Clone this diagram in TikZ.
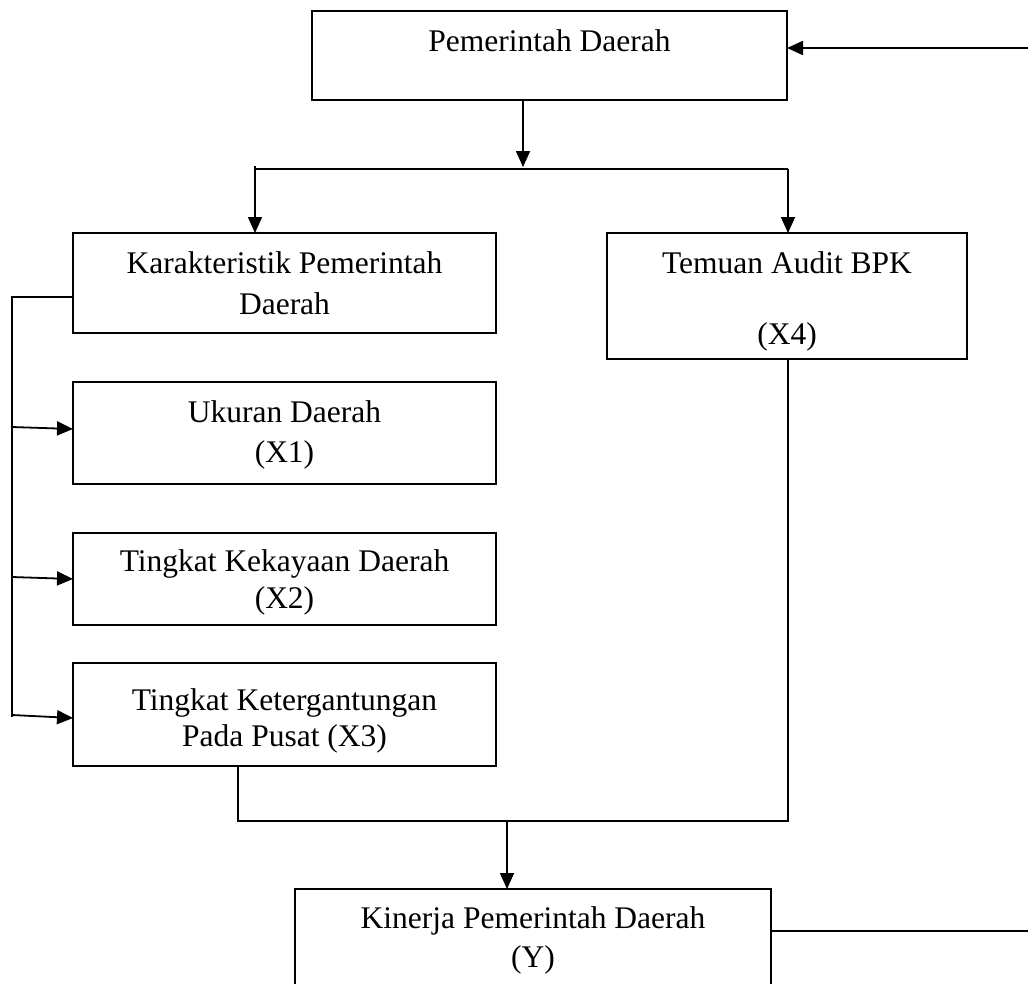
\documentclass[tikz,border=0pt]{standalone}
\usepackage{fontspec}
\setmainfont{Liberation Serif}
\usetikzlibrary{arrows.meta}
\tikzset{
  box/.style={draw, line width=1.8pt, rectangle, inner sep=0pt, outer sep=0pt},
  txt/.style={anchor=base, inner sep=0pt, font=\fontsize{31.5}{38}\selectfont},
  conn/.style={line width=1.8pt},
  arr/.style={line width=1.8pt, -{Triangle[length=16pt,width=14pt]}}
}
\begin{document}
\begin{tikzpicture}[x=1pt,y=-1pt]
\clip (0,0) rectangle (1028,983);
\fill[white] (0,0) rectangle (1028,983);
% boxes
\node[box, minimum width=475pt, minimum height=89pt] (top) at (549.5,55.5) {};
\node[box, minimum width=423pt, minimum height=100pt] (kar) at (284.5,283) {};
\node[box, minimum width=423pt, minimum height=102pt] (xa) at (284.5,433) {};
\node[box, minimum width=423pt, minimum height=92pt] (xb) at (284.5,579) {};
\node[box, minimum width=423pt, minimum height=103pt] (xc) at (284.5,714.5) {};
\node[box, minimum width=360pt, minimum height=126pt] (xd) at (787,296) {};
\node[box, minimum width=476pt, minimum height=130pt] (yb) at (533,954) {};
% texts
\node[txt] (tTop) at (549.5,51) {Pemerintah Daerah};
\node[txt] (tKar1) at (284.5,273) {Karakteristik Pemerintah};
\node[txt] (tKar2) at (284.5,314) {Daerah};
\node[txt] (tXa1) at (284.5,422) {Ukuran Daerah};
\node[txt] (tXa2) at (284.5,462) {(X1)};
\node[txt] (tXb1) at (284.5,571) {Tingkat Kekayaan Daerah};
\node[txt] (tXb2) at (284.5,608) {(X2)};
\node[txt] (tXc1) at (284.5,710) {Tingkat Ketergantungan};
\node[txt] (tXc2) at (284.5,746) {Pada Pusat (X3)};
\node[txt] (tXd1) at (787,273) {Temuan Audit BPK};
\node[txt] (tXd2) at (787,344) {(X4)};
\node[txt] (tY1) at (533,928) {Kinerja Pemerintah Daerah};
\node[txt] (tY2) at (533,967) {(Y)};
% coordinates
\coordinate (sp) at (523,167);
\coordinate (hl) at (255,169);
\coordinate (hr) at (788,169);
\coordinate (fbR) at (1040,931);
\coordinate (fbT) at (1040,48);
\coordinate (L0) at (12,297);
\coordinate (L1) at (12,427);
\coordinate (L2) at (12,577);
\coordinate (L3) at (12,715);
\coordinate (L4) at (12,717);
\coordinate (e1) at (73,429);
\coordinate (e2) at (73,579);
\coordinate (e3) at (73,718);
\coordinate (bl) at (238,821);
\coordinate (br) at (788,821);
\coordinate (bm) at (507,821);
% connectors
\draw[arr] (top.south -| sp) -- (sp);
\draw[conn] (hl) -- (hr);
\draw[conn] (hl) ++(0,-3) -- (hl);
\draw[arr] (hl) -- (kar.north -| hl);
\draw[arr] (hr) -- (xd.north -| hr);
\draw[conn] (kar.west |- L0) -- (L0) -- (L4);
\draw[arr] (L1) -- (e1);
\draw[arr] (L2) -- (e2);
\draw[arr] (L3) -- (e3);
\draw[conn] (xc.south -| bl) -- (bl) -- (br) -- (xd.south -| br);
\draw[arr] (bm) -- (yb.north -| bm);
\draw[arr] (yb.east |- fbR) -- (fbR) -- (fbT) -- (top.east |- fbT);
\end{tikzpicture}
\end{document}
